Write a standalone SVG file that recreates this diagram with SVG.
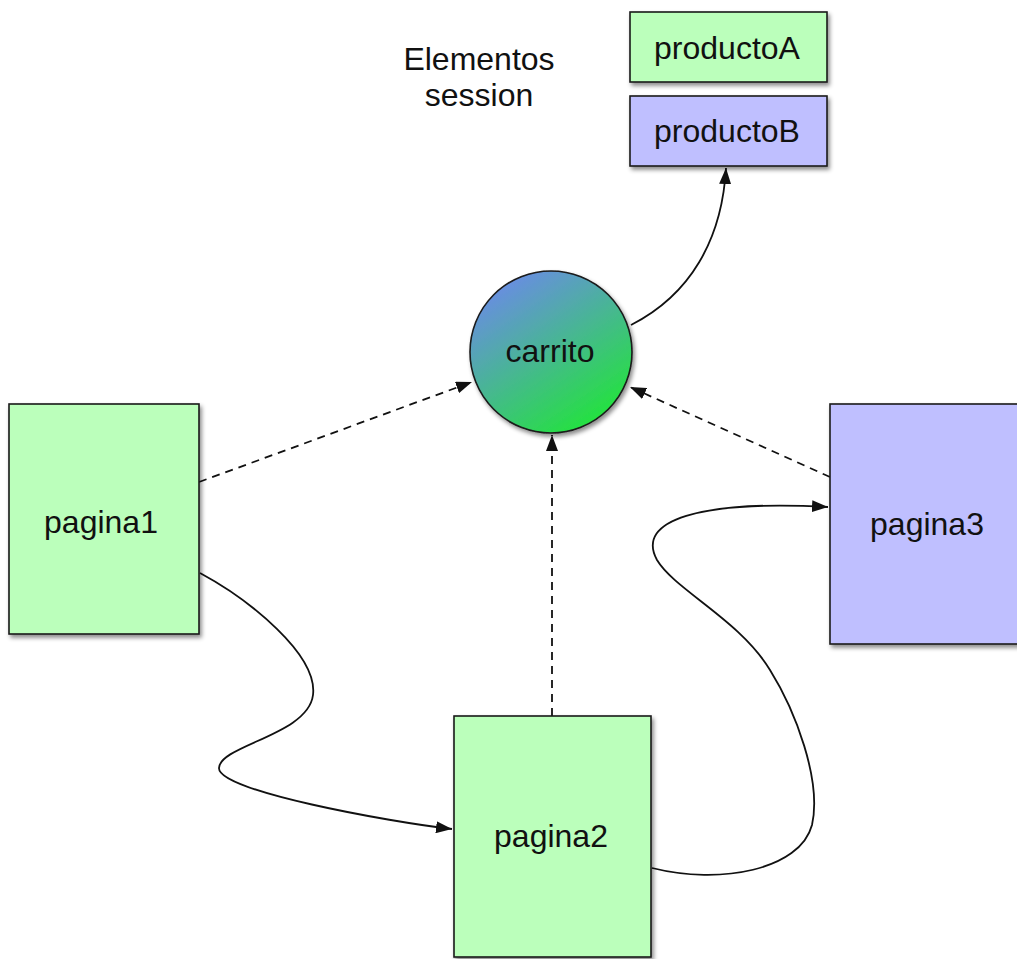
<svg xmlns="http://www.w3.org/2000/svg" width="1017" height="959" viewBox="0 0 1017 959">
  <style>
    .box { stroke: #1a1a1a; stroke-width: 1.6; filter: url(#shadow); }
    .green { fill: #bbffbb; }
    .blue { fill: #bfbfff; }
    .label { font-family: "Liberation Sans", Arial, sans-serif; font-size: 32px; fill: #111; text-anchor: middle; }
    .link { fill: none; stroke: #111; stroke-width: 1.8; marker-end: url(#arrow); }
    .dashed { stroke-dasharray: 8 6; }
  </style>
  <defs>
    <filter id="shadow" x="-10%" y="-10%" width="130%" height="130%">
      <feDropShadow dx="2" dy="3" stdDeviation="2" flood-color="#000" flood-opacity="0.45"/>
    </filter>
    <linearGradient id="cartGrad" x1="0.2" y1="0.05" x2="0.8" y2="0.95">
      <stop offset="0" stop-color="#6a8ce4"/>
      <stop offset="1" stop-color="#22e43a"/>
    </linearGradient>
    <marker id="arrow" viewBox="0 0 16 12" refX="16" refY="6" markerWidth="16" markerHeight="12" markerUnits="userSpaceOnUse" orient="auto">
      <path d="M0,0 L16,6 L0,12 Z" fill="#111"/>
    </marker>
  </defs>

  <!-- connectors -->
  <g id="connectors">
    <line class="link dashed" x1="199" y1="482" x2="472" y2="382"/>
    <line class="link dashed" x1="552" y1="716" x2="552" y2="435"/>
    <line class="link dashed" x1="830" y1="477" x2="630" y2="387"/>
    <path class="link" d="M631,325 C690,295 722,240 726,168"/>
    <path class="link" d="M200,573 C250,600 318,655 313,695 S220,745 219,768 S390,822 452,829"/>
    <path class="link" d="M652,868 C720,885 800,870 812,825 C822,780 795,710 770,670 C740,620 675,590 657,560 C635,520 700,500 828,507"/>
  </g>

  <!-- caption -->
  <g id="caption">
    <text class="label" x="479" y="70">Elementos</text>
    <text class="label" x="479" y="106">session</text>
  </g>

  <!-- session items -->
  <g id="productoA">
    <rect class="box green" x="630" y="12" width="197" height="70"/>
    <text class="label" x="727" y="59">productoA</text>
  </g>
  <g id="productoB">
    <rect class="box blue" x="630" y="96" width="197" height="70"/>
    <text class="label" x="727" y="142">productoB</text>
  </g>

  <!-- cart -->
  <g id="carrito">
    <circle cx="551" cy="352" r="81" fill="url(#cartGrad)" stroke="#1a1a1a" stroke-width="1.6" filter="url(#shadow)"/>
    <text class="label" x="550" y="362">carrito</text>
  </g>

  <!-- pages -->
  <g id="pagina1">
    <rect class="box green" x="9" y="404" width="190" height="230"/>
    <text class="label" x="101" y="533">pagina1</text>
  </g>
  <g id="pagina2">
    <rect class="box green" x="454" y="716" width="197" height="241"/>
    <text class="label" x="551" y="847">pagina2</text>
  </g>
  <g id="pagina3">
    <rect class="box blue" x="830" y="404" width="196" height="240"/>
    <text class="label" x="927" y="535">pagina3</text>
  </g>
</svg>
